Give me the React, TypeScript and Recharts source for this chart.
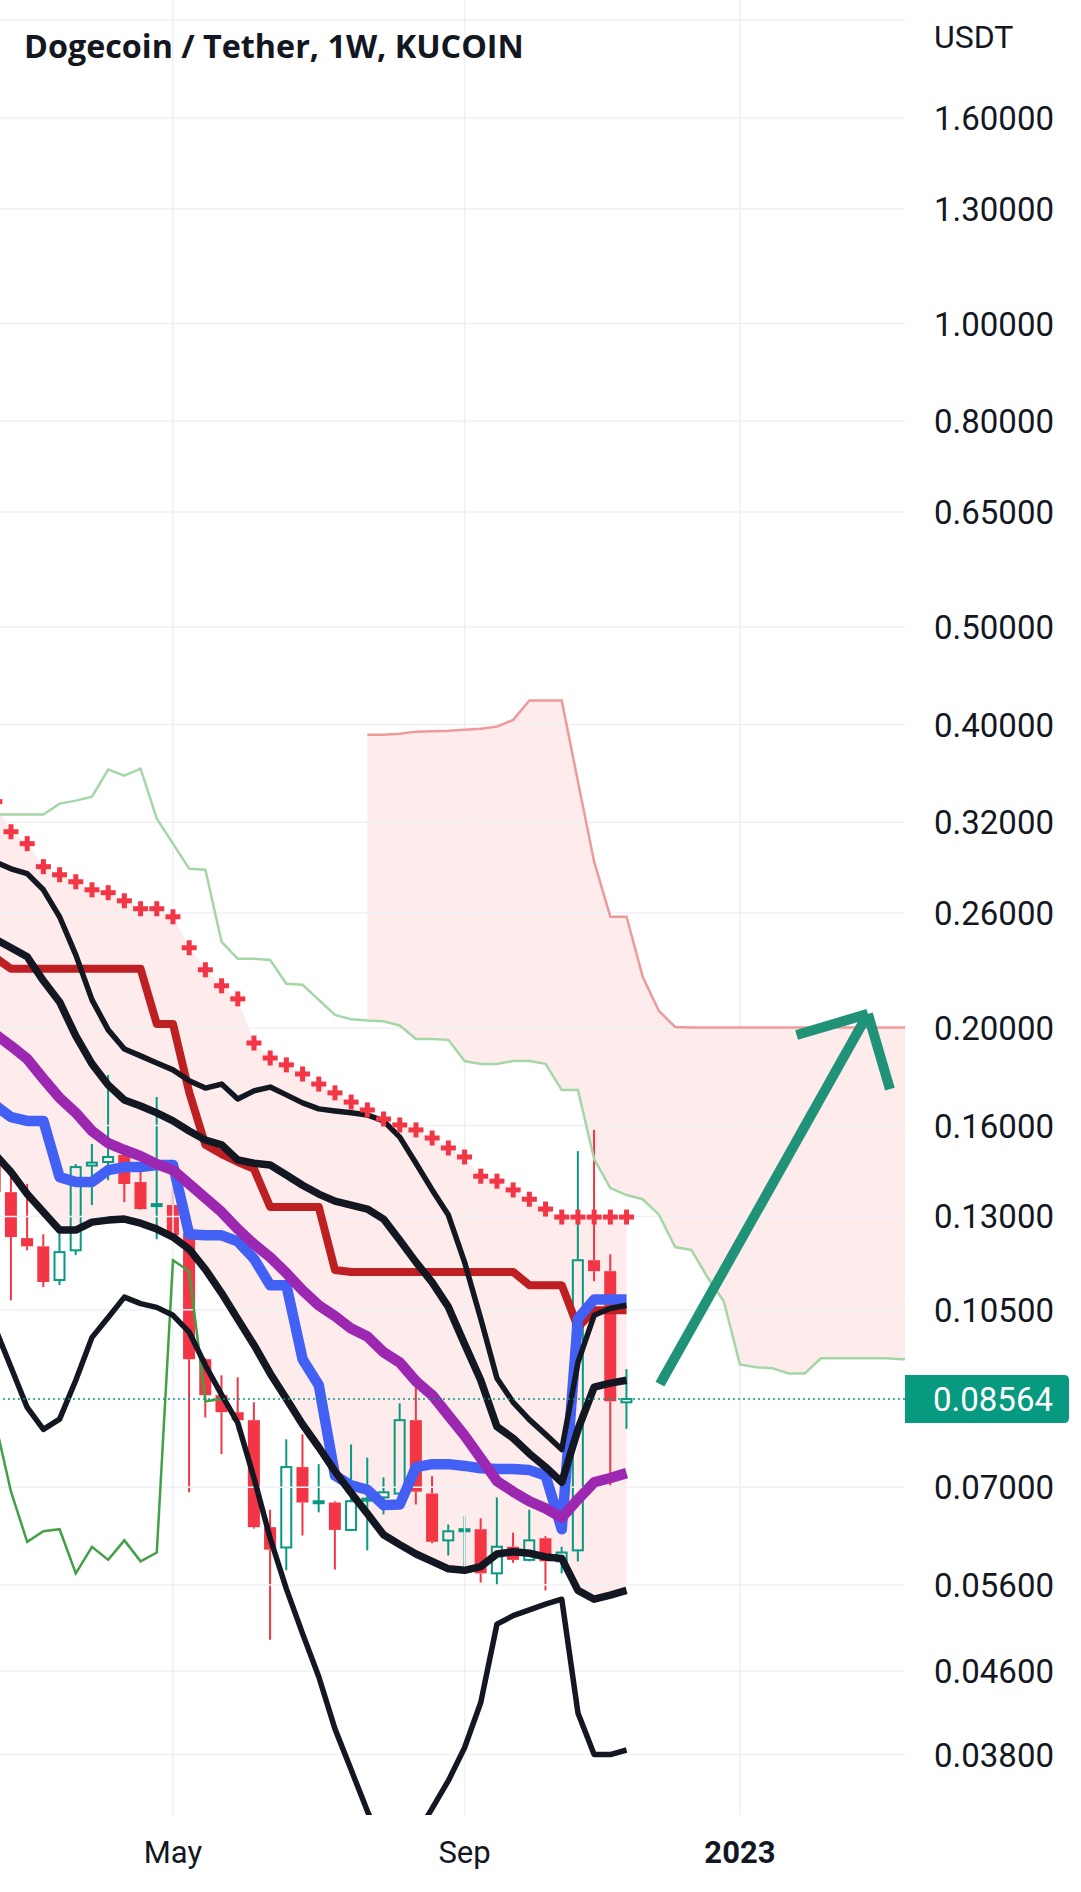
import React from 'react';
import {
  ComposedChart,
  XAxis,
  YAxis,
  Line,
  Area,
  Bar,
  ReferenceLine,
} from 'recharts';

const CHART_W = 1081;
const CHART_H = 1892;
const AXIS_W = 176;
const AXIS_H = 77;
const PLOT_W = CHART_W - AXIS_W;
const PLOT_H = CHART_H - AXIS_H;

const UP = '#089981';
const DOWN = '#f23645';
const INK = '#131722';
const GRID = '#eef0f4';

// weeks counted from the Feb 21 2022 candle (= 0)
const FIRST_WEEK = -1;
const SPAN_B_START = 22;
const weekTicks = [10, 28, 45];
const weekTickLabels = ['May', 'Sep', '2023'];
const priceTicks = [2.0, 1.6, 1.3, 1.0, 0.8, 0.65, 0.5, 0.4, 0.32, 0.26, 0.2, 0.16, 0.13, 0.105, 0.07, 0.056, 0.046, 0.038];
const LAST_PRICE = 0.08564;

const candleOpen = [0.1489, 0.1374, 0.1237, 0.1214, 0.1124, 0.1203, 0.146, 0.1472, 0.1496, 0.1406, 0.1331, 0.1334, 0.1251, 0.0938, 0.0864, 0.0831, 0.0816, 0.0639, 0.061, 0.0733, 0.0675, 0.0676, 0.0635, 0.0679, 0.0684, 0.069, 0.0816, 0.069, 0.062, 0.0634, 0.0636, 0.0575, 0.0611, 0.0593, 0.0623, 0.0591, 0.0606, 0.1176, 0.1147, 0.085];
const candleHigh = [0.152, 0.1455, 0.14, 0.1248, 0.126, 0.1465, 0.1534, 0.1796, 0.1512, 0.1472, 0.1708, 0.139, 0.126, 0.094, 0.0904, 0.09, 0.085, 0.0665, 0.0781, 0.079, 0.0738, 0.0678, 0.0772, 0.0749, 0.0716, 0.0848, 0.0898, 0.0718, 0.0643, 0.0655, 0.0652, 0.0684, 0.0631, 0.0665, 0.0626, 0.0611, 0.1509, 0.1584, 0.1192, 0.0917];
const candleLow = [0.133, 0.1073, 0.1203, 0.1106, 0.1111, 0.119, 0.1334, 0.1412, 0.1343, 0.132, 0.1234, 0.124, 0.0692, 0.0821, 0.0755, 0.0797, 0.0637, 0.0494, 0.0579, 0.0627, 0.0661, 0.058, 0.0634, 0.0606, 0.0658, 0.0688, 0.0673, 0.0616, 0.0599, 0.0575, 0.0563, 0.056, 0.0589, 0.0591, 0.0553, 0.0575, 0.0591, 0.1121, 0.0703, 0.08];
const candleClose = [0.1374, 0.124, 0.1214, 0.1119, 0.1198, 0.1455, 0.147, 0.1489, 0.14, 0.1322, 0.1337, 0.1245, 0.0938, 0.0864, 0.0831, 0.0816, 0.0639, 0.0607, 0.0733, 0.0676, 0.0678, 0.0635, 0.0678, 0.0682, 0.0692, 0.0816, 0.0693, 0.0618, 0.0633, 0.0636, 0.0575, 0.0611, 0.0593, 0.062, 0.0591, 0.0603, 0.1176, 0.1147, 0.0852, 0.08564];

const tenkan = [0.1677, 0.1631, 0.1617, 0.1617, 0.1422, 0.1406, 0.1406, 0.1445, 0.1455, 0.1455, 0.1462, 0.1462, 0.1248, 0.1245, 0.1245, 0.1228, 0.118, 0.1111, 0.1111, 0.0938, 0.0884, 0.0719, 0.0703, 0.0696, 0.0672, 0.0673, 0.0733, 0.0738, 0.0738, 0.0735, 0.0731, 0.073, 0.073, 0.0728, 0.0719, 0.0636, 0.1029, 0.1075, 0.1075, 0.1075];
const kijun = [0.235, 0.2289, 0.2289, 0.2289, 0.2289, 0.2289, 0.2289, 0.2289, 0.2289, 0.2289, 0.2018, 0.2018, 0.1727, 0.1531, 0.1499, 0.1472, 0.1449, 0.1328, 0.1328, 0.1328, 0.1328, 0.115, 0.1145, 0.1145, 0.1145, 0.1145, 0.1145, 0.1145, 0.1145, 0.1145, 0.1145, 0.1145, 0.1145, 0.1111, 0.1111, 0.1111, 0.1009, 0.1049, 0.1049, 0.1049];
const lagging = [0.0816, 0.0693, 0.0618, 0.0633, 0.0636, 0.0575, 0.0611, 0.0593, 0.062, 0.0591, 0.0603, 0.1176, 0.1147, 0.0852, 0.08564];
const spanA = [0.3256, 0.3256, 0.3256, 0.3256, 0.3339, 0.3362, 0.3392, 0.3609, 0.3559, 0.3617, 0.3226, 0.3047, 0.2877, 0.2871, 0.2435, 0.2342, 0.2342, 0.2336, 0.2212, 0.2207, 0.2132, 0.206, 0.204, 0.2034, 0.203, 0.2011, 0.195, 0.195, 0.1946, 0.1854, 0.1842, 0.1842, 0.1854, 0.1854, 0.1842, 0.1735, 0.1735, 0.1482, 0.1387, 0.1365, 0.1352, 0.1305, 0.1212, 0.1204, 0.1131, 0.1071, 0.0927, 0.0921, 0.0919, 0.0908, 0.0908, 0.094, 0.094, 0.094, 0.094, 0.094, 0.0938, 0.0938];
const spanB = [0.3909, 0.3909, 0.3917, 0.3936, 0.394, 0.3945, 0.3954, 0.3963, 0.3981, 0.4043, 0.4226, 0.4226, 0.4226, 0.3511, 0.2924, 0.2578, 0.2578, 0.2247, 0.2079, 0.2004, 0.2002, 0.2002, 0.2002, 0.2002, 0.2002, 0.2002, 0.2002, 0.2002, 0.2002, 0.2002, 0.2002, 0.2002, 0.2002, 0.2002, 0.2002];

const purpleMa = [0.1973, 0.1919, 0.1863, 0.178, 0.1704, 0.1647, 0.158, 0.1537, 0.1513, 0.1492, 0.1465, 0.1445, 0.14, 0.1356, 0.1313, 0.1263, 0.122, 0.1184, 0.1142, 0.1098, 0.1061, 0.1035, 0.1006, 0.0988, 0.0953, 0.0931, 0.0892, 0.0864, 0.0825, 0.0788, 0.0748, 0.071, 0.0693, 0.0678, 0.0667, 0.0653, 0.0681, 0.0708, 0.0715, 0.0723];
const fastLine = [0.2924, 0.2877, 0.2845, 0.2742, 0.2578, 0.2363, 0.2132, 0.1991, 0.1906, 0.1876, 0.1846, 0.1817, 0.1772, 0.1743, 0.1759, 0.17, 0.1732, 0.1747, 0.1716, 0.1685, 0.1662, 0.1654, 0.1647, 0.1639, 0.1617, 0.1558, 0.1468, 0.1381, 0.1304, 0.1171, 0.1029, 0.0898, 0.085, 0.0817, 0.079, 0.0763, 0.0931, 0.1037, 0.1054, 0.1061];
const slowLine = [0.2451, 0.2402, 0.2353, 0.2227, 0.2122, 0.1964, 0.1842, 0.1755, 0.1696, 0.1673, 0.1647, 0.1617, 0.158, 0.1548, 0.1531, 0.1479, 0.1468, 0.1462, 0.1429, 0.1396, 0.1368, 0.1346, 0.1334, 0.1322, 0.1292, 0.1231, 0.1171, 0.1118, 0.1057, 0.0971, 0.0894, 0.0804, 0.0783, 0.0756, 0.0733, 0.0708, 0.0799, 0.088, 0.0888, 0.0894];
const bandUpper = [0.3354, 0.3131, 0.3047, 0.2891, 0.2838, 0.2793, 0.2742, 0.2724, 0.2674, 0.2626, 0.2626, 0.2578, 0.2402, 0.2284, 0.2202, 0.2137, 0.1932, 0.1867, 0.1838, 0.18, 0.1759, 0.1724, 0.1688, 0.1658, 0.1624, 0.1602, 0.1584, 0.1555, 0.152, 0.1489, 0.1425, 0.1409, 0.1381, 0.1352, 0.1322, 0.1298, 0.1298, 0.1298, 0.1298, 0.1298];
const bandLower = [0.1499, 0.1439, 0.1368, 0.1313, 0.126, 0.126, 0.1283, 0.1289, 0.1292, 0.128, 0.1263, 0.124, 0.1206, 0.1152, 0.1091, 0.1028, 0.0969, 0.0908, 0.0857, 0.0808, 0.0767, 0.0726, 0.0691, 0.0659, 0.0628, 0.0614, 0.0601, 0.0591, 0.0581, 0.0579, 0.0584, 0.0601, 0.0604, 0.0602, 0.0597, 0.0595, 0.0553, 0.0542, 0.0547, 0.0553];
const deepLine = [0.1009, 0.0921, 0.084, 0.0799, 0.0818, 0.0894, 0.0986, 0.1032, 0.1081, 0.1065, 0.1056, 0.1037, 0.0998, 0.0925, 0.0865, 0.0811, 0.0715, 0.0623, 0.0555, 0.0501, 0.0454, 0.0403, 0.0367, 0.0334, 0.0307, 0.0303, 0.0316, 0.0336, 0.0358, 0.0386, 0.0428, 0.0512, 0.0522, 0.0529, 0.0536, 0.0542, 0.0418, 0.038, 0.038, 0.0384];

// hand-drawn arrow, in week / price coordinates
const arrowShaft = [{ x: 40.06, y: 0.0886 }, { x: 52.9, y: 0.2065 }];
const arrowLeft = [{ x: 48.5, y: 0.1968 }, { x: 52.9, y: 0.2065 }];
const arrowRight = [{ x: 52.9, y: 0.2065 }, { x: 54.26, y: 0.1739 }];

const rows = spanA.map((a, k) => {
  const week = FIRST_WEEK + k;
  return {
    week,
    open: candleOpen[k],
    high: candleHigh[k],
    low: candleLow[k],
    close: candleClose[k],
    tenkan: tenkan[k],
    kijun: kijun[k],
    lagging: lagging[k],
    ma: purpleMa[k],
    fast: fastLine[k],
    slow: slowLine[k],
    bandUpper: bandUpper[k],
    bandLower: bandLower[k],
    deep: deepLine[k],
    spanA: a,
    spanB: week >= SPAN_B_START ? spanB[week - SPAN_B_START] : undefined,
  };
});

function Candle(props: any) {
  const { x, y, width, height, payload } = props;
  if (!payload || payload.open == null || !isFinite(y) || !isFinite(height)) return <g />;
  const { open, close, high, low } = payload;
  const top = Math.min(y, y + height);
  const span = Math.abs(height);
  const lh = Math.log(high);
  const range = lh - Math.log(low);
  const toY = (v: number) => top + (span * (lh - Math.log(v))) / range;
  const cx = x + width / 2;
  const up = close >= open;
  const color = up ? UP : DOWN;
  const bTop = toY(Math.max(open, close));
  const bBot = Math.max(toY(Math.min(open, close)), bTop + 2);
  return (
    <g>
      <line x1={cx} x2={cx} y1={top} y2={bTop} stroke={color} strokeWidth={2} />
      <line x1={cx} x2={cx} y1={bBot} y2={top + span} stroke={color} strokeWidth={2} />
      {up ? (
        <rect x={x + 1} y={bTop} width={width - 2} height={bBot - bTop} fill="none" stroke={color} strokeWidth={2} />
      ) : (
        <rect x={x} y={bTop} width={width} height={bBot - bTop} fill={color} />
      )}
    </g>
  );
}

function Cross(props: any) {
  const { cx, cy, index } = props;
  if (cx == null || cy == null || !isFinite(cy)) return <g key={index} />;
  const s = 7.5;
  return (
    <g key={index}>
      <line x1={cx - s} x2={cx + s} y1={cy} y2={cy} stroke={DOWN} strokeWidth={5} />
      <line x1={cx} x2={cx} y1={cy - s} y2={cy + s} stroke={DOWN} strokeWidth={5} />
    </g>
  );
}

function PriceTick(props: any) {
  const { y, payload } = props;
  if (payload.value >= 2) return <g />;
  return (
    <text x={PLOT_W + 29} y={y} dy={12} fontSize={33} fontFamily="Roboto" fill={INK}>
      {payload.value.toFixed(5)}
    </text>
  );
}

function WeekTick(props: any) {
  const { x, payload } = props;
  const i = weekTicks.indexOf(payload.value);
  const label = weekTickLabels[i];
  return (
    <text
      x={x}
      y={PLOT_H + 48}
      textAnchor="middle"
      fontSize={31}
      fontFamily="Roboto"
      fontWeight={label === '2023' ? 700 : 400}
      fill={INK}
    >
      {label}
    </text>
  );
}

function PriceTag(props: any) {
  const vb = props.viewBox || {};
  const y = vb.y;
  const x0 = PLOT_W;
  const w = 164;
  const h = 48;
  const r = 5;
  const d = `M${x0},${y - h / 2} H${x0 + w - r} Q${x0 + w},${y - h / 2} ${x0 + w},${y - h / 2 + r} V${y + h / 2 - r} Q${x0 + w},${y + h / 2} ${x0 + w - r},${y + h / 2} H${x0} Z`;
  return (
    <g>
      <path d={d} fill={UP} />
      <text x={x0 + 28} y={y} dy={12} fontSize={33} fontFamily="Roboto" fill="#ffffff">
        {LAST_PRICE.toFixed(5)}
      </text>
    </g>
  );
}

export default function App() {
  return (
    <div style={{ position: 'absolute', left: 0, top: 0, width: CHART_W, height: CHART_H, background: '#ffffff' }}>
      <ComposedChart width={CHART_W} height={CHART_H} data={rows} margin={{ top: 0, right: 0, bottom: 0, left: 0 }}>
        {priceTicks.map((p) => (
          <ReferenceLine key={`h${p}`} y={p} stroke={GRID} strokeWidth={1.5} />
        ))}
        {weekTicks.map((t) => (
          <ReferenceLine key={`v${t}`} x={t} stroke={GRID} strokeWidth={1.5} />
        ))}
        <XAxis
          dataKey="week"
          type="number"
          domain={[-0.679, 55.19]}
          allowDataOverflow
          ticks={weekTicks}
          interval={0}
          height={AXIS_H}
          axisLine={false}
          tickLine={false}
          tick={<WeekTick />}
        />
        <YAxis
          orientation="right"
          scale="log"
          domain={[0.0331, 2.095]}
          allowDataOverflow
          ticks={priceTicks}
          interval={0}
          width={AXIS_W}
          axisLine={false}
          tickLine={false}
          tick={<PriceTick />}
        />

        <Area
          dataKey={(d: any) => (d.spanB != null ? [d.spanA, d.spanB] : null)}
          stroke="none"
          fill="#f23645"
          fillOpacity={0.1}
          isAnimationActive={false}
          activeDot={false}
        />
        <Area
          dataKey={(d: any) => (d.bandLower != null ? [d.bandLower, d.bandUpper] : null)}
          stroke="none"
          fill="#f23645"
          fillOpacity={0.1}
          isAnimationActive={false}
          activeDot={false}
        />
        <Line dataKey="spanA" stroke="#a5d6a7" strokeWidth={2.5} dot={false} activeDot={false} isAnimationActive={false} />
        <Line dataKey="spanB" stroke="#ef9a9a" strokeWidth={2.5} dot={false} activeDot={false} isAnimationActive={false} />
        <Line dataKey="lagging" stroke="#43a047" strokeWidth={2.5} dot={false} activeDot={false} isAnimationActive={false} />
        <Line dataKey="kijun" stroke="#bd1f22" strokeWidth={8} strokeLinejoin="round" dot={false} activeDot={false} isAnimationActive={false} />
        <Line dataKey="tenkan" stroke="#4260f4" strokeWidth={10.5} strokeLinejoin="round" dot={false} activeDot={false} isAnimationActive={false} />
        <Line dataKey="ma" stroke="#9c27b0" strokeWidth={10.5} strokeLinejoin="round" dot={false} activeDot={false} isAnimationActive={false} />
        <Line dataKey="deep" stroke={INK} strokeWidth={5.5} strokeLinejoin="round" dot={false} activeDot={false} isAnimationActive={false} />
        <Line dataKey="bandLower" stroke={INK} strokeWidth={7.5} strokeLinejoin="round" dot={false} activeDot={false} isAnimationActive={false} />
        <Line dataKey="slow" stroke={INK} strokeWidth={7.5} strokeLinejoin="round" dot={false} activeDot={false} isAnimationActive={false} />
        <Line dataKey="fast" stroke={INK} strokeWidth={5.5} strokeLinejoin="round" dot={false} activeDot={false} isAnimationActive={false} />
        <Line dataKey="bandUpper" stroke="none" dot={<Cross />} activeDot={false} isAnimationActive={false} />

        <Bar
          dataKey={(d: any) => (d.open != null ? [d.low, d.high] : null)}
          barSize={12}
          shape={<Candle />}
          isAnimationActive={false}
        />

        <ReferenceLine
          y={LAST_PRICE}
          stroke={UP}
          strokeWidth={1.5}
          strokeDasharray="2 3"
          label={<PriceTag />}
        />
        <ReferenceLine segment={arrowShaft} stroke="#1f9278" strokeWidth={10} ifOverflow="visible" />
        <ReferenceLine segment={arrowLeft} stroke="#1f9278" strokeWidth={10} ifOverflow="visible" />
        <ReferenceLine segment={arrowRight} stroke="#1f9278" strokeWidth={10} ifOverflow="visible" />
      </ComposedChart>
      <svg
        width={CHART_W}
        height={100}
        style={{ position: 'absolute', left: 0, top: 0, pointerEvents: 'none' }}
      >
        <text x={24} y={58} fontSize={32.3} fontWeight={700} fontFamily="Open Sans" fill={INK}>
          Dogecoin / Tether, 1W, KUCOIN
        </text>
        <text x={PLOT_W + 29} y={48} fontSize={32} fontFamily="Roboto" fill={INK}>
          USDT
        </text>
      </svg>
    </div>
  );
}
